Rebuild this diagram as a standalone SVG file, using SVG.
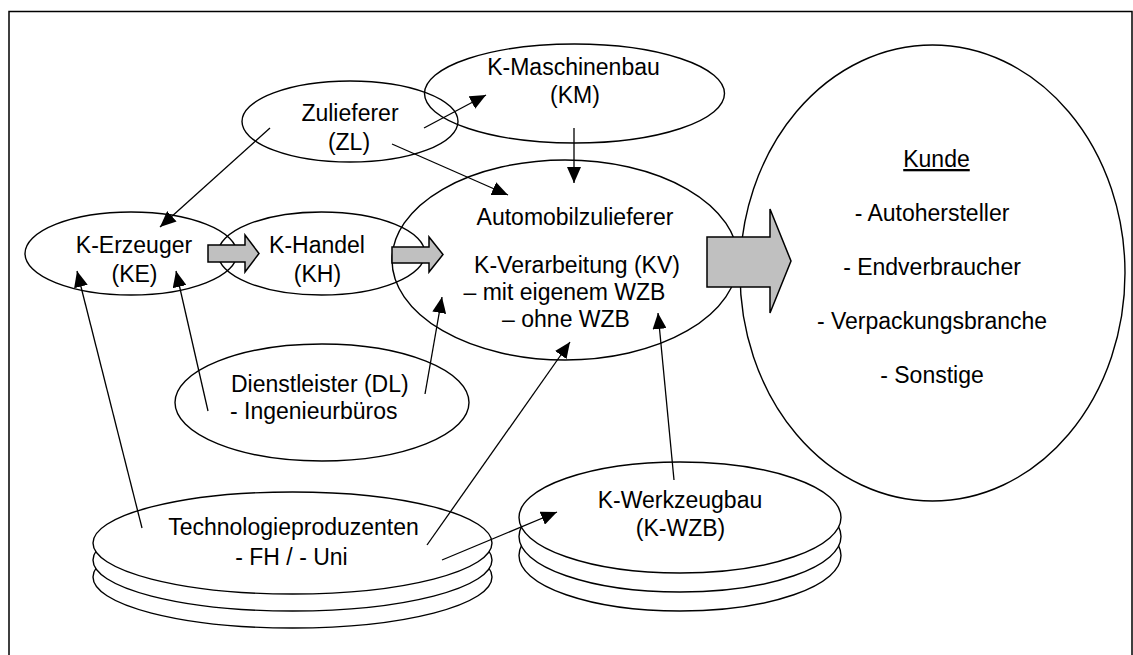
<svg xmlns="http://www.w3.org/2000/svg" width="1133" height="655" viewBox="0 0 1133 655">
  <style>
    .node { fill: none; stroke: #000; stroke-width: 1.4; }
    .disc { fill: #fff; stroke: #000; stroke-width: 1.4; }
    .lbl { font-family: "Liberation Sans", Arial, sans-serif; font-size: 23px; fill: #000; text-anchor: middle; }
    .lbl-l { text-anchor: start; }
    .link { fill: none; stroke: #000; stroke-width: 1.3; marker-end: url(#tip); }
    .flow { fill: #c0c0c0; stroke: #000; stroke-width: 1.5; stroke-linejoin: miter; }
  </style>
  <defs>
    <marker id="tip" viewBox="0 0 16 14" refX="16" refY="7" markerWidth="16" markerHeight="14" markerUnits="userSpaceOnUse" orient="auto">
      <path d="M0,0 L16,7 L0,14 Z" fill="#000"/>
    </marker>
  </defs>

  <rect width="1133" height="655" fill="#fff"/>
  <!-- outer frame, open at the bottom -->
  <path d="M9,655 V11.5 H1132 V655" fill="none" stroke="#000" stroke-width="1.5"/>

  <g id="km">
    <ellipse class="node" cx="574.5" cy="93.5" rx="150" ry="49.5"/>
    <text class="lbl" x="573.5" y="75">K-Maschinenbau</text>
    <text class="lbl" x="575" y="103">(KM)</text>
  </g>

  <g id="zl">
    <ellipse class="node" cx="350" cy="121.5" rx="108" ry="40.5"/>
    <text class="lbl" x="350" y="121">Zulieferer</text>
    <text class="lbl" x="349" y="150">(ZL)</text>
  </g>

  <g id="ke">
    <ellipse class="node" cx="131" cy="253.5" rx="106" ry="41.5"/>
    <text class="lbl" x="134" y="253">K-Erzeuger</text>
    <text class="lbl" x="134.5" y="282">(KE)</text>
  </g>

  <g id="kh">
    <ellipse class="node" cx="321.5" cy="253.5" rx="103.5" ry="41.5"/>
    <text class="lbl" x="317" y="253">K-Handel</text>
    <text class="lbl" x="317.5" y="282">(KH)</text>
  </g>

  <g id="az">
    <ellipse class="node" cx="565" cy="260" rx="173" ry="100"/>
    <text class="lbl" x="575" y="225">Automobilzulieferer</text>
    <text class="lbl" x="577" y="273">K-Verarbeitung (KV)</text>
    <text class="lbl" x="564.5" y="300">– mit eigenem WZB</text>
    <text class="lbl" x="566" y="327">– ohne WZB</text>
  </g>

  <g id="dl">
    <ellipse class="node" cx="322" cy="402.5" rx="147" ry="58.5"/>
    <text class="lbl lbl-l" x="231" y="392">Dienstleister (DL)</text>
    <text class="lbl lbl-l" x="230" y="419">- Ingenieurbüros</text>
  </g>

  <g id="kunde">
    <ellipse class="node" cx="932.5" cy="273" rx="192.5" ry="228"/>
    <text class="lbl" x="936.5" y="167" text-decoration="underline">Kunde</text>
    <text class="lbl" x="932" y="221">- Autohersteller</text>
    <text class="lbl" x="932" y="275">- Endverbraucher</text>
    <text class="lbl" x="932" y="329">- Verpackungsbranche</text>
    <text class="lbl" x="932" y="383">- Sonstige</text>
  </g>

  <g id="tp">
    <ellipse class="disc" cx="292.5" cy="577" rx="199.5" ry="51"/>
    <ellipse class="disc" cx="292.5" cy="560" rx="199.5" ry="51"/>
    <ellipse class="disc" cx="292.5" cy="543" rx="199.5" ry="51"/>
    <text class="lbl" x="293.5" y="535">Technologieproduzenten</text>
    <text class="lbl" x="291.5" y="565">- FH / - Uni</text>
  </g>

  <g id="wzb">
    <ellipse class="disc" cx="680" cy="555.5" rx="161" ry="55.5"/>
    <ellipse class="disc" cx="680" cy="536.5" rx="161" ry="55.5"/>
    <ellipse class="disc" cx="680" cy="517.5" rx="161" ry="55.5"/>
    <text class="lbl" x="680" y="508">K-Werkzeugbau</text>
    <text class="lbl" x="680.5" y="536">(K-WZB)</text>
  </g>

  <g id="connectors">
    <line class="link" x1="424" y1="128" x2="486" y2="95"/>
    <line class="link" x1="392" y1="144" x2="508" y2="195"/>
    <line class="link" x1="574" y1="128" x2="574" y2="183"/>
    <line class="link" x1="270" y1="128" x2="160" y2="227"/>
    <line class="link" x1="142" y1="528" x2="77" y2="271"/>
    <line class="link" x1="208" y1="411" x2="176" y2="271"/>
    <line class="link" x1="425" y1="394" x2="442" y2="297"/>
    <line class="link" x1="427" y1="545" x2="570" y2="342"/>
    <line class="link" x1="442" y1="560" x2="557" y2="512"/>
    <line class="link" x1="674" y1="480" x2="658" y2="313"/>
    <!-- flow arrows -->
    <path class="flow" d="M208,245 H245 V235 L259,253.5 L245,272 V262 H208 Z"/>
    <path class="flow" d="M392,247 H429 V237 L443,254.5 L429,272 V263 H392 Z"/>
    <path class="flow" d="M707,237 H770 V209 L791,261 L770,313 V287 H707 Z"/>
  </g>
</svg>
